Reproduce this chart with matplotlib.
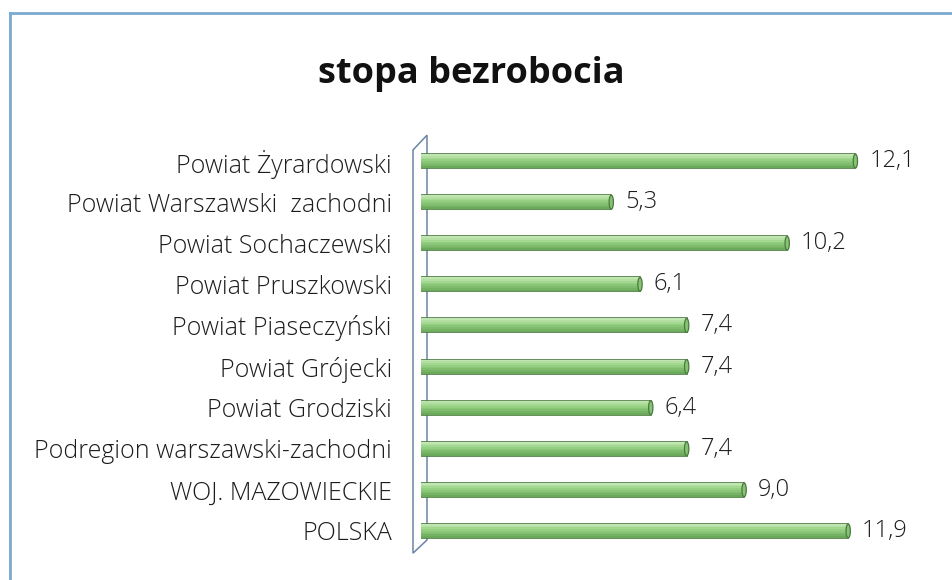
import matplotlib.pyplot as plt
import numpy as np
from matplotlib.lines import Line2D
from matplotlib.patches import Polygon, Ellipse
from matplotlib.colors import to_rgb

plt.rcParams["font.family"] = ["Open Sans", "DejaVu Sans"]

categories = [
    "Powiat Żyrardowski",
    "Powiat Warszawski  zachodni",
    "Powiat Sochaczewski",
    "Powiat Pruszkowski",
    "Powiat Piaseczyński",
    "Powiat Grójecki",
    "Powiat Grodziski",
    "Podregion warszawski-zachodni",
    "WOJ. MAZOWIECKIE",
    "POLSKA",
]
values = [12.1, 5.3, 10.2, 6.1, 7.4, 7.4, 6.4, 7.4, 9.0, 11.9]
title = "stopa bezrobocia"

W, H = 952, 580
fig = plt.figure(figsize=(W / 100, H / 100), dpi=100)
fig.patch.set_facecolor("white")

# ramka wykresu (widoczna tylko gora i lewa strona)
fig.add_artist(Line2D([10 / W, 1], [1 - 13 / H, 1 - 13 / H], color="#7aaad0", lw=2))
fig.add_artist(Line2D([10 / W, 10 / W], [0, 1 - 13 / H], color="#7aaad0", lw=2))

# os: zero w px 421, 35.9 px na jednostke
x0 = 421
ppu = 35.9
ax_w = 500
ax = fig.add_axes([x0 / W, (H - 551.5) / H, ax_w / W, 411 / H])
ax.set_xlim(0, ax_w / ppu)
ax.set_ylim(len(categories) - 0.5, -0.5)

ypos = np.arange(len(categories))
bh = 0.34

# walec: gradient z gory (jasny) na dol (ciemny)
ax.barh(ypos, values, height=bh, color="#8ccb7a", edgecolor="#4a7a3e", linewidth=1.2, zorder=3)
top_c = np.array(to_rgb("#c2e6b2"))
mid_c = np.array(to_rgb("#97d284"))
bot_c = np.array(to_rgb("#6aa85a"))
n = 8
for k in range(n):
    t = k / (n - 1)
    if t < 0.4:
        c = top_c + (mid_c - top_c) * (t / 0.4)
    else:
        c = mid_c + (bot_c - mid_c) * ((t - 0.4) / 0.6)
    off = -bh / 2 + bh * (k + 0.5) / n
    ax.barh(ypos + off, values, height=bh / n, color=c, linewidth=0, zorder=4)

# zaokraglony koniec walca
for y, v in zip(ypos, values):
    ax.add_patch(Ellipse((v, y), 0.12, bh, facecolor="#86c474", edgecolor="#4a7a3e",
                         lw=0.9, zorder=5))

for y, v in zip(ypos, values):
    ax.annotate(f"{v:.1f}".replace(".", ","), (v, y), xytext=(10, 0),
                textcoords="offset points", va="center", ha="left",
                fontsize=17, fontweight="light", color="#1c1c1c")

ax.set_yticks(ypos)
ax.set_yticklabels(categories, fontsize=18, fontweight="light", color="#1c1c1c")
ax.tick_params(axis="y", length=0, pad=21)
ax.set_xticks([])
for s in ax.spines.values():
    s.set_visible(False)

# sciana 3D po lewej
tr = ax.get_xaxis_transform()
wl = (413 - x0) / ppu
wr = (427 - x0) / ppu
wall = Polygon([(wl, -0.004), (wl, 0.977), (wr, 1.013), (wr, 0.028)], closed=True,
               fill=False, edgecolor="#6b84a6", lw=1.1, transform=tr, clip_on=False, zorder=2)
ax.add_patch(wall)

fig.text(471 / W, 1 - 74 / H, title, ha="center", va="center", fontsize=26,
         fontweight="bold", color="#111111")

fig.savefig("out.png", dpi=100, facecolor="white")
